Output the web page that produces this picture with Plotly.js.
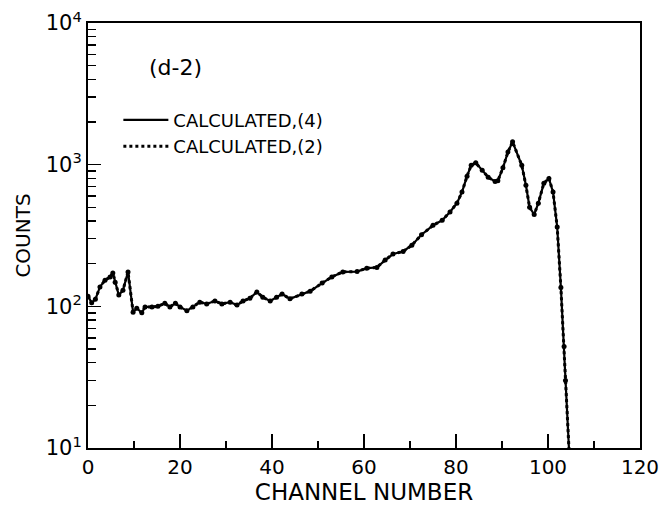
<!DOCTYPE html>
<html>
<head>
<meta charset="utf-8">
<script src="https://cdn.plot.ly/plotly-3.0.1.min.js"></script>
<style>html,body{margin:0;padding:0;background:#fff;}#chart{width:661px;height:509px;}</style>
</head>
<body>
<div id="chart"></div>
<script>
// Channel numbers and counts
var channel = [0, 0.8, 1.6, 2.6, 3.7, 4.8, 5.4, 5.9, 6.7, 7.6, 8.7, 9.8, 10.6, 11.7, 12.4, 13.9, 15.2, 16.7, 17.8, 19, 20, 21.5, 22.8, 24.3, 25.8, 27.6, 29.1, 30.9, 32.4, 33.7, 35.2, 36.7, 38, 39.6, 41, 42.2, 43.9, 46.5, 48.3, 50.9, 53, 55.4, 58.5, 60.6, 62.8, 64.6, 66.3, 68.5, 70.4, 72.5, 75, 77, 78.7, 80.2, 81.3, 82.4, 83.3, 84.3, 85.7, 87, 88.5, 89.1, 90.2, 91.3, 92.3, 94.3, 95.2, 96, 97, 97.9, 99.1, 100.2, 101.1, 102, 102.8, 103.5, 103.8, 104.7];
var counts4 = [118, 106, 112, 137, 153, 161, 172, 148, 120, 130, 175, 91, 97, 90, 99, 99, 100, 105, 99, 105, 99, 93, 99, 107, 104, 109, 104, 107, 102, 109, 114, 126, 116, 109, 116, 122, 113, 122, 128, 146, 161, 175, 176, 186, 188, 212, 234, 244, 270, 320, 373, 405, 464, 535, 640, 830, 990, 1030, 915, 815, 760, 770, 950, 1230, 1450, 990, 715, 500, 445, 535, 740, 800, 640, 363, 136, 52, 30, 8];
var counts2 = counts4.slice();

var yTickVals = [10, 100, 1000, 10000];
var yTickText = ['10<sup>1</sup>', '10<sup>2</sup>', '10<sup>3</sup>', '10<sup>4</sup>'];
var yMinorVals = [20,30,40,50,60,70,80,90,200,300,400,500,600,700,800,900,2000,3000,4000,5000,6000,7000,8000,9000];

var seriesNames = ['CALCULATED,(4)', 'CALCULATED,(2)'];
var panelLabel = '(d-2)';

var fontFam = 'DejaVu Sans, Liberation Sans, sans-serif';

var traces = [
  {x: channel, y: counts4, name: seriesNames[0], mode: 'lines', type: 'scatter',
   line: {color: '#000', width: 2.2}, hoverinfo: 'skip'},
  {x: channel, y: counts2, name: seriesNames[1], mode: 'lines', type: 'scatter',
   line: {color: '#000', width: 3, dash: 'dot'}, hoverinfo: 'skip'},
  {x: channel, y: counts2, mode: 'markers', type: 'scatter', showlegend: false,
   marker: {color: '#000', size: 5}, hoverinfo: 'skip'}
];

var layout = {
  width: 661, height: 509,
  margin: {l: 88, r: 21, t: 23, b: 61},
  paper_bgcolor: '#fff', plot_bgcolor: '#fff',
  font: {family: fontFam, color: '#000', size: 18},
  showlegend: true,
  legend: {x: 0.055, y: 0.815, xanchor: 'left', yanchor: 'top', bgcolor: 'rgba(0,0,0,0)',
           borderwidth: 0, font: {family: fontFam, size: 18, color: '#000'}, itemwidth: 45, tracegroupgap: 0},
  xaxis: {
    range: [0, 120], showgrid: false, zeroline: false,
    showline: true, linecolor: '#000', linewidth: 2, mirror: true,
    ticks: 'inside', ticklen: 14, tickwidth: 1.5, tickcolor: '#000',
    tickmode: 'linear', tick0: 0, dtick: 20,
    minor: {ticks: 'inside', ticklen: 7, tickwidth: 1.5, tickcolor: '#000', dtick: 10, tick0: 0, showgrid: false},
    tickfont: {family: fontFam, size: 20, color: '#000'},
    title: {text: 'CHANNEL NUMBER', font: {family: fontFam, size: 23, color: '#000'}, standoff: 6}
  },
  yaxis: {
    type: 'log', range: [1, 4], showgrid: false, zeroline: false,
    showline: true, linecolor: '#000', linewidth: 2, mirror: true,
    ticks: 'inside', ticklen: 13, tickwidth: 1.5, tickcolor: '#000',
    tickmode: 'array', tickvals: yTickVals, ticktext: yTickText,
    minor: {ticks: 'inside', ticklen: 8, tickwidth: 1.5, tickcolor: '#000', tickmode: 'array', tickvals: yMinorVals, showgrid: false},
    tickfont: {family: fontFam, size: 21, color: '#000'},
    title: {text: 'COUNTS', font: {family: fontFam, size: 20, color: '#000'}, standoff: 10}
  },
  annotations: [
    {text: panelLabel, xref: 'paper', yref: 'paper', x: 0.106, y: 0.896, xanchor: 'left', yanchor: 'middle',
     showarrow: false, font: {family: fontFam, size: 22, color: '#000'}}
  ]
};

Plotly.newPlot('chart', traces, layout, {displayModeBar: false, staticPlot: true});
</script>
</body>
</html>
